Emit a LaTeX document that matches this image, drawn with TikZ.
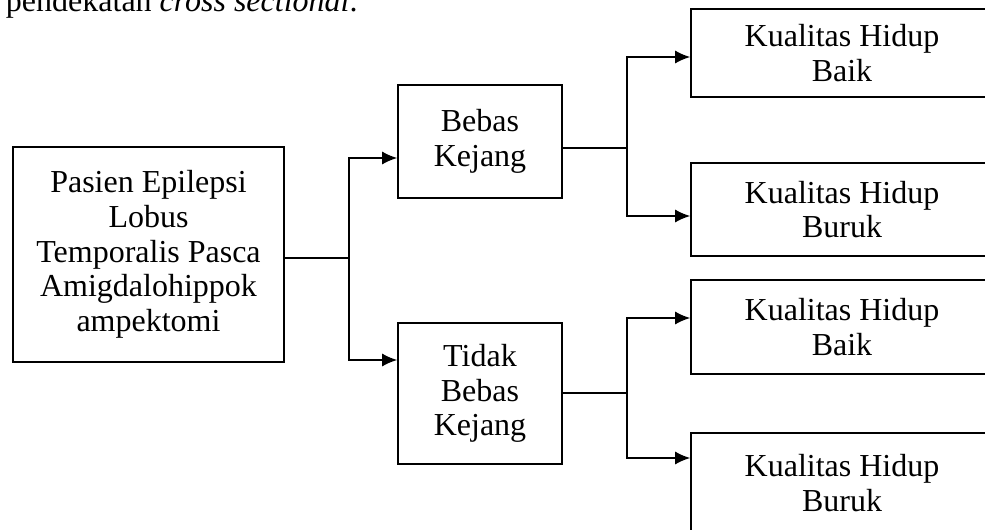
\documentclass[tikz,border=0pt]{standalone}
\usepackage{fontspec}
\setmainfont{Liberation Serif}
\usetikzlibrary{arrows.meta,positioning,calc}

\begin{document}
\begin{tikzpicture}[
        ->,>={Latex[length=11.5pt,width=10pt]},
        x=0.75pt, y=-0.75pt,
        line width=1.5pt,
        font=\fontsize{24}{26}\selectfont
    ]

    \tikzstyle{block} = [rectangle,draw,line width=1pt,align=center,inner sep=0pt]
    \tikzstyle{mid} = [block,minimum width=123pt]
    \tikzstyle{result} = [block,minimum width=226.5pt]

    \useasboundingbox (0,0) rectangle (985,529);
    \clip (0,0) rectangle (985,529);

    \node[anchor=base west,inner sep=0pt] (intro) at (5,11) {pendekatan {\itshape cross sectional}.};

    \node[block,minimum width=203.25pt,minimum height=161.25pt] (pasien) at (148.5,254.5)
        {Pasien Epilepsi\\Lobus\\Temporalis Pasca\\Amigdalohippok\\ampektomi};
    \node[mid,minimum height=84.75pt] (bebas) at (480,141.5) {Bebas\\Kejang};
    \node[mid,minimum height=105.75pt] (tidak) at (480,393.5) {Tidak\\Bebas\\Kejang};

    \node[result,minimum height=66pt] (baik1) at (842,53) {Kualitas Hidup\\Baik};
    \node[result,minimum height=69.75pt] (buruk1) at (842,209.5) {Kualitas Hidup\\Buruk};
    \node[result,minimum height=70.5pt] (baik2) at (842,327) {Kualitas Hidup\\Baik};
    \node[result,minimum height=75pt] (buruk2) at (842,483) {Kualitas Hidup\\Buruk};

    \coordinate (j1) at (349,258);
    \coordinate (j2) at (627,148);
    \coordinate (j3) at (627,393);

    \draw[-] (pasien.east |- j1) -- (j1);
    \draw (j1) |- (bebas.west |- 0,158);
    \draw (j1) |- (tidak.west |- 0,360);

    \draw[-] (bebas.east |- j2) -- (j2);
    \draw (j2) |- (baik1.west |- 0,57);
    \draw (j2) |- (buruk1.west |- 0,216);

    \draw[-] (tidak.east |- j3) -- (j3);
    \draw (j3) |- (baik2.west |- 0,318);
    \draw (j3) |- (buruk2.west |- 0,458);

\end{tikzpicture}
\end{document}
